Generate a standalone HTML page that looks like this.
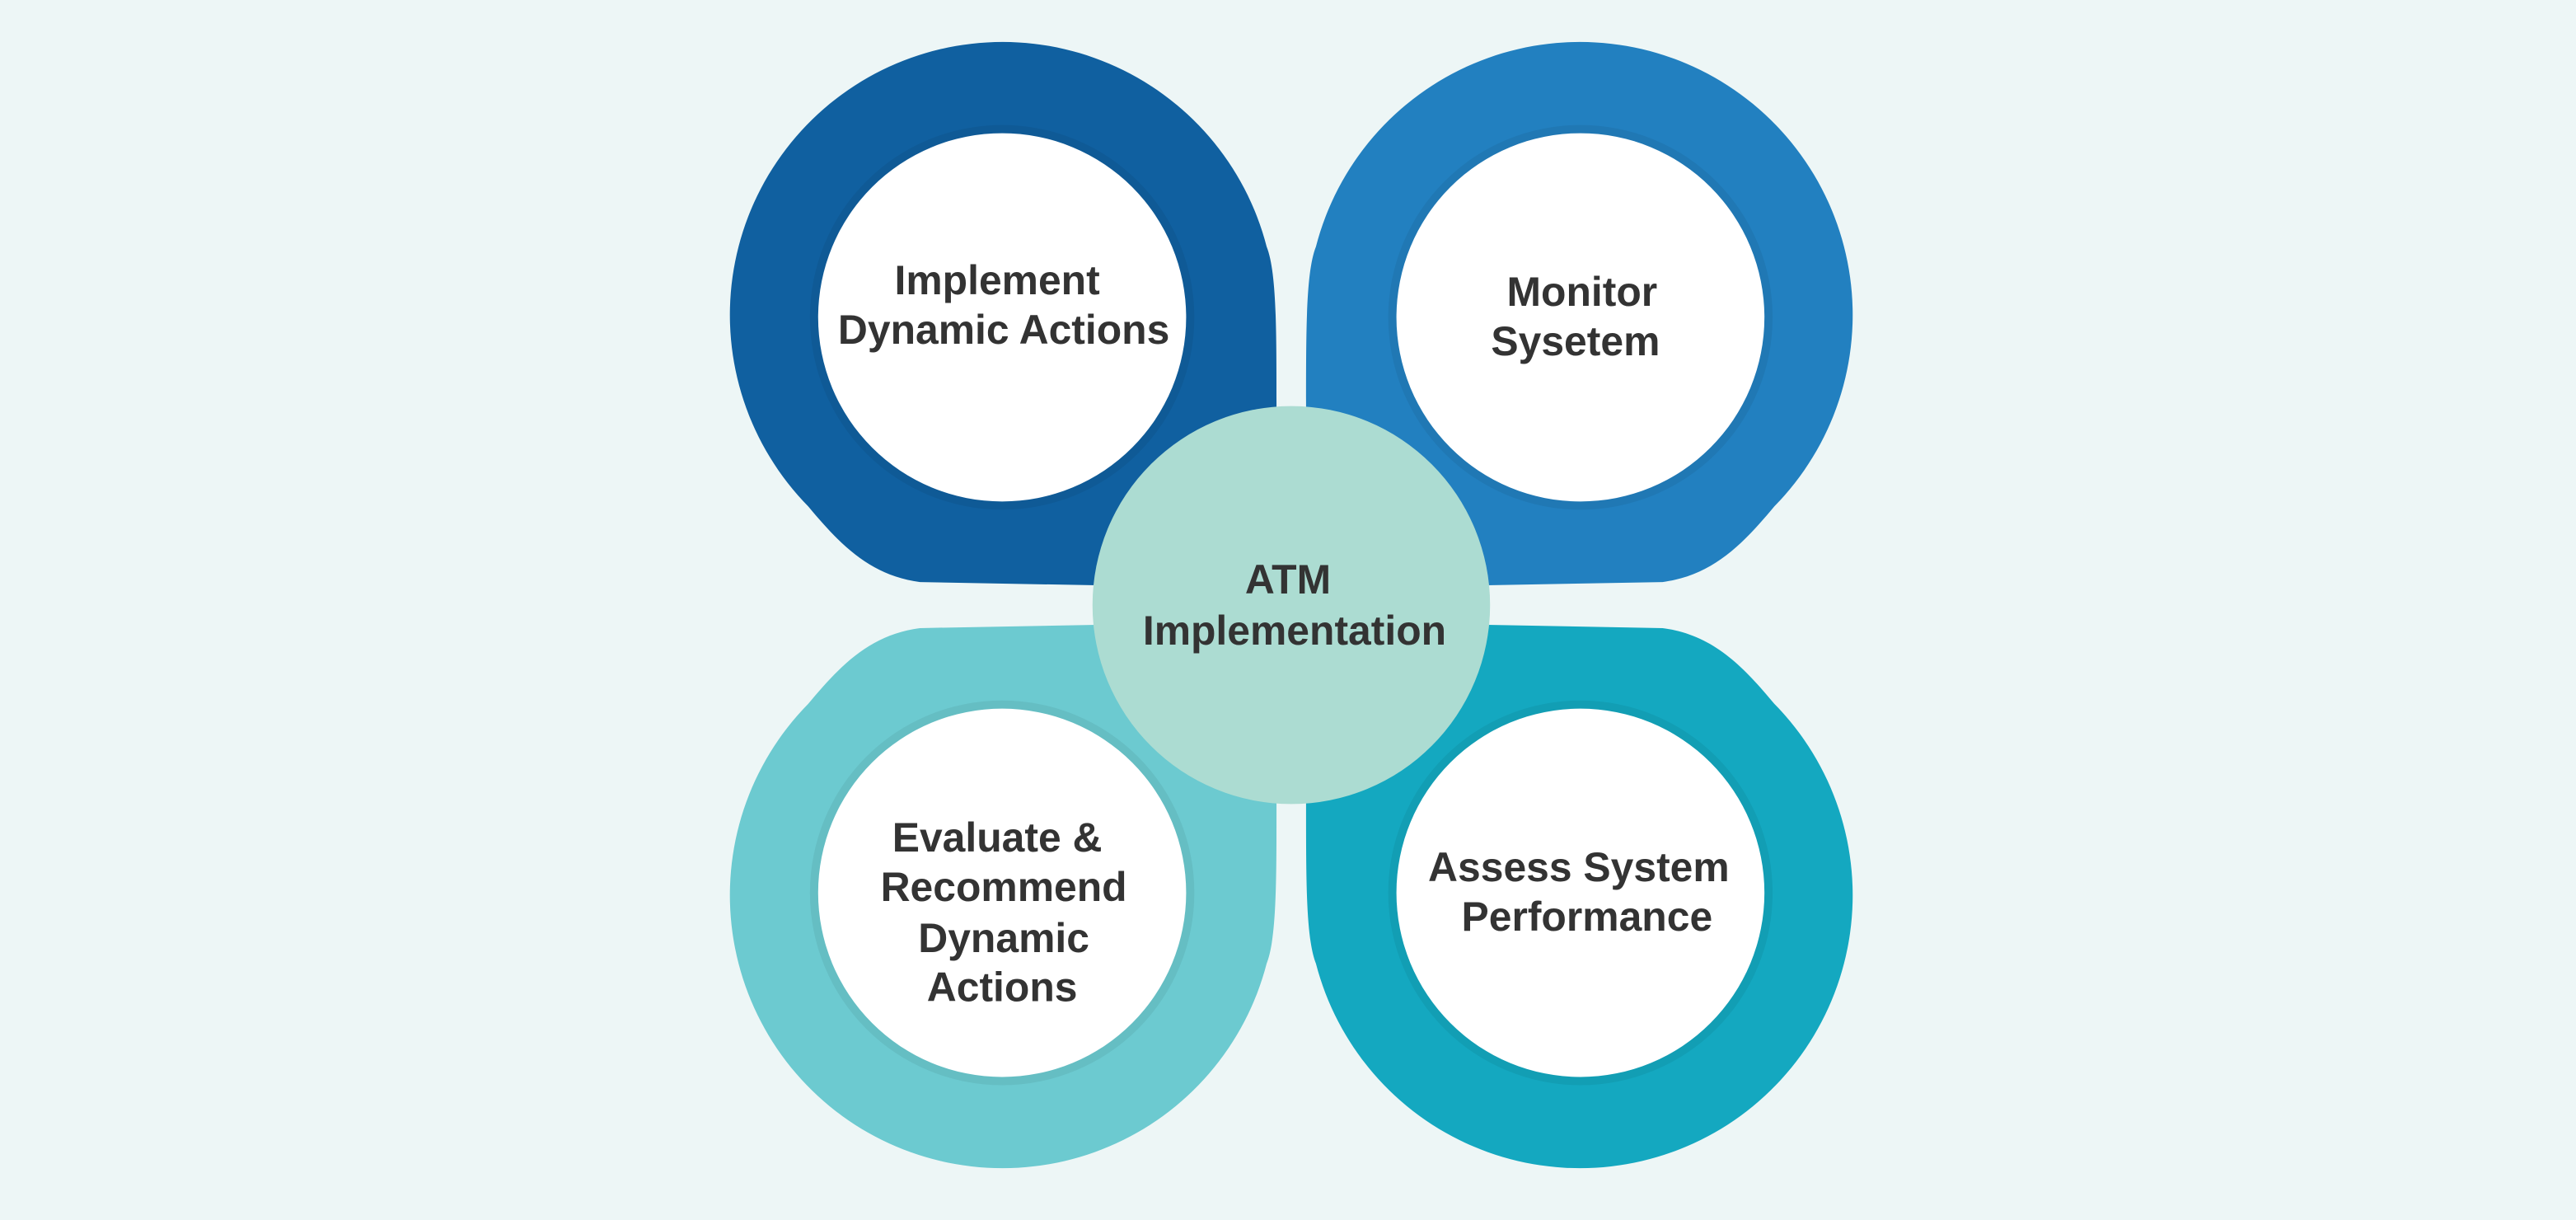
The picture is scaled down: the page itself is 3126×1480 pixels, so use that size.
<!DOCTYPE html>
<html><head><meta charset="utf-8"><style>
html,body{margin:0;padding:0;background:#edf6f6;}
svg{display:block}
text{font-family:"Liberation Sans",Arial,sans-serif;font-weight:bold;fill:#333;font-size:25px;text-anchor:middle}
</style></head><body>
<svg width="3126" height="1480" viewBox="0 0 1568 742" preserveAspectRatio="none">
<rect width="1568" height="742" fill="#edf6f6"/>
<defs>
<path id="p" d="M 771,150 C 777,165 777,200 777,245 L 777,358 L 560,354 C 530,350 512,332 492,308 A 166 166 0 1 1 771,150 Z"/>
</defs>
<use href="#p" fill="#1060a0"/>
<use href="#p" fill="#2280c0" transform="translate(1572,0) scale(-1,1)"/>
<use href="#p" fill="#6ccad0" transform="translate(0,736) scale(1,-1)"/>
<use href="#p" fill="#14a8c0" transform="translate(1572,736) scale(-1,-1)"/>
<g fill="#000" opacity="0.06">
<circle cx="610" cy="193" r="117"/><circle cx="962" cy="193" r="117"/>
<circle cx="610" cy="543" r="117"/><circle cx="962" cy="543" r="117"/>
</g>
<g fill="#fff">
<circle cx="610" cy="193" r="112"/><circle cx="962" cy="193" r="112"/>
<circle cx="610" cy="543" r="112"/><circle cx="962" cy="543" r="112"/>
</g>
<circle cx="786" cy="368" r="121" fill="#acdcd2"/>
<text x="607" y="179">Implement</text>
<text x="611" y="209">Dynamic Actions</text>
<text x="963" y="186">Monitor</text>
<text x="959" y="216">Sysetem</text>
<text x="784" y="361">ATM</text>
<text x="788" y="392">Implementation</text>
<text x="607" y="518">Evaluate &amp;</text>
<text x="611" y="548">Recommend</text>
<text x="611" y="579">Dynamic</text>
<text x="610" y="609">Actions</text>
<text x="961" y="536">Assess System</text>
<text x="966" y="566">Performance</text>
</svg>
</body></html>
